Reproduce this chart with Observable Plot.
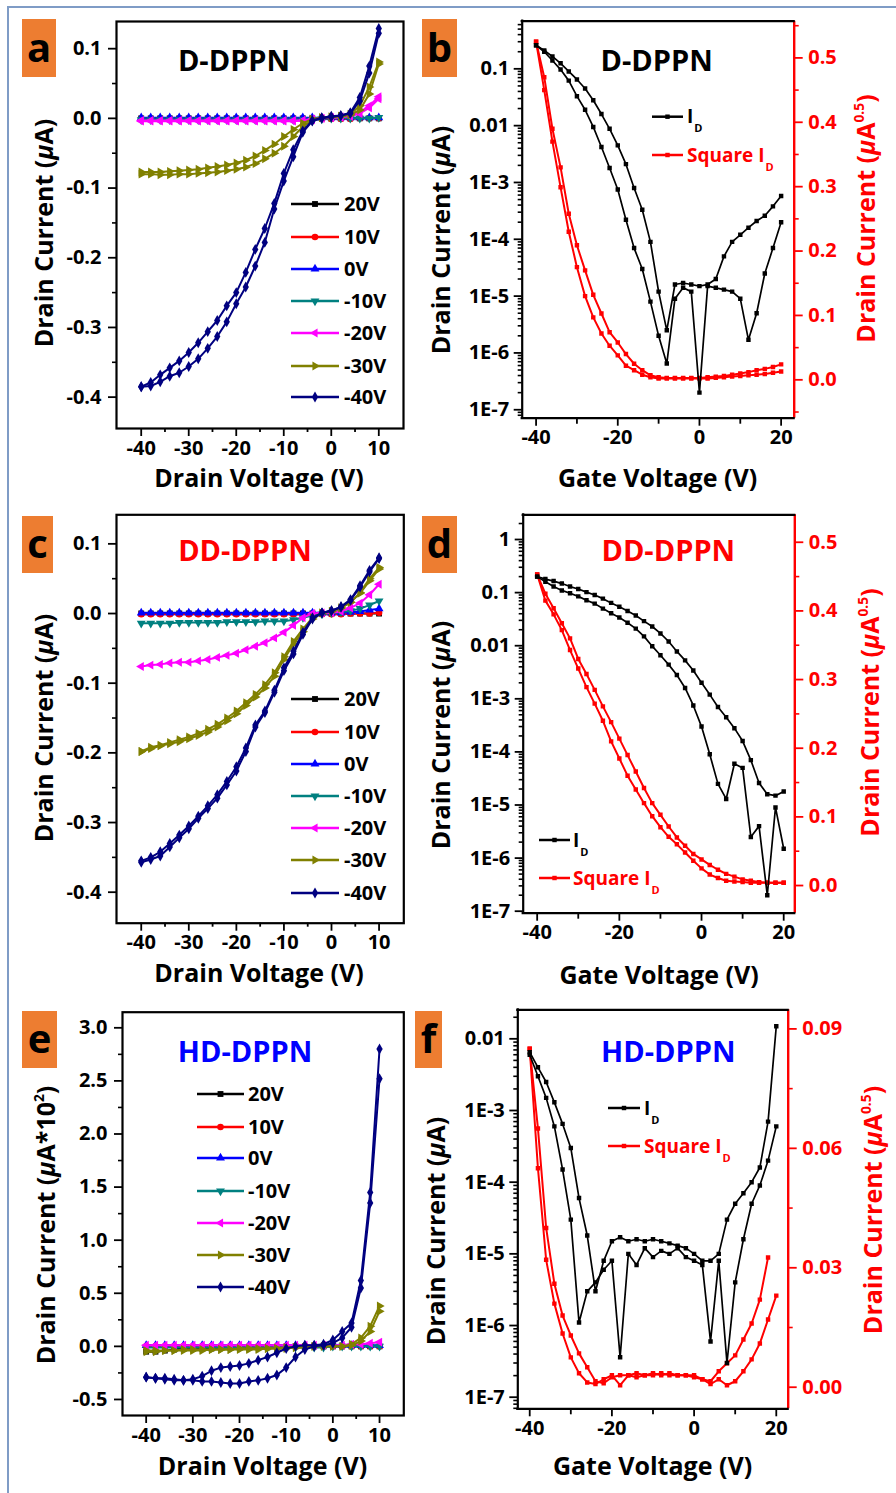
<!DOCTYPE html>
<html>
<head>
<meta charset="utf-8">
<script src="https://cdn.jsdelivr.net/npm/d3@7"></script>
<script src="https://cdn.jsdelivr.net/npm/@observablehq/plot@0.6"></script>
<style>
  body { margin: 0; background: #fff; }
  #page { position: relative; width: 896px; height: 1493px; overflow: hidden; background: #fff; }
  #page svg { position: absolute; }
</style>
</head>
<body>
<div id="page"></div>
<script>
// ---------- sweep voltages and axis ticks ----------
const VD = [-40,-38,-36,-34,-32,-30,-28,-26,-24,-22,-20,-18,-16,-14,-12,-10,-8,-6,-4,-2,0,2,4,6,8,10];
const VG = [-40,-38,-36,-34,-32,-30,-28,-26,-24,-22,-20,-18,-16,-14,-12,-10,-8,-6,-4,-2,0,2,4,6,8,10,12,14,16,18,20];
const GATE_LABELS = ["20V","10V","0V","-10V","-20V","-30V","-40V"];
const SERIES_COLORS = ["#000000","#ff0000","#0000ff","#008080","#ff00ff","#808000","#000080"];
const VD_TICKS = [-40,-30,-20,-10,0,10];
const VD_MINOR = [-35,-25,-15,-5,5];
const VG_TICKS = [-40,-20,0,20];
const VG_MINOR = [-30,-10,10];
const ID_TICKS = [-0.4,-0.3,-0.2,-0.1,0,0.1];
const ID_MINOR = [-0.35,-0.25,-0.15,-0.05,0.05];
const E_TICKS = [-0.5,0,0.5,1,1.5,2,2.5,3];
const E_MINOR = [-0.25,0.25,0.75,1.25,1.75,2.25,2.75];
const B_LOG_TICKS = [1e-7,1e-6,1e-5,1e-4,1e-3,0.01,0.1];
const D_LOG_TICKS = [1e-7,1e-6,1e-5,1e-4,1e-3,0.01,0.1,1];
const F_LOG_TICKS = [1e-7,1e-6,1e-5,1e-4,1e-3,0.01];
const SQ_TICKS = [0,0.1,0.2,0.3,0.4,0.5];
const B_SQ_MINOR = [-0.05,0.05,0.15,0.25,0.35,0.45,0.55];
const D_SQ_MINOR = [0.05,0.15,0.25,0.35,0.45];
const F_SQ_TICKS = [0,0.03,0.06,0.09];
const F_SQ_MINOR = [0.015,0.045,0.075];

// ---------- (a) D-DPPN output curves, drain current in uA ----------
const aG20   = [0.000,0.000,0.000,0.000,0.000,0.000,0.000,0.000,0.000,0.000,0.000,0.000,0.000,0.000,0.000,0.000,0.000,0.000,0.000,0.000,0.000,0.000,0.000,0.000,0.000,0.000];
const aG10   = [-0.001,-0.001,-0.001,-0.001,-0.001,-0.001,-0.001,-0.001,-0.001,-0.001,-0.001,-0.001,-0.001,-0.001,-0.001,-0.001,-0.001,-0.001,-0.001,-0.001,-0.001,-0.001,-0.001,0.000,0.000,0.000];
const aG0    = [0.001,0.001,0.001,0.001,0.001,0.001,0.001,0.001,0.001,0.001,0.001,0.001,0.001,0.001,0.001,0.001,0.001,0.001,0.001,0.001,0.001,0.001,0.001,0.001,0.001,0.001];
const aGm10  = [-0.002,-0.002,-0.002,-0.002,-0.002,-0.002,-0.002,-0.002,-0.002,-0.002,-0.002,-0.002,-0.002,-0.002,-0.002,-0.002,-0.002,-0.002,-0.002,-0.001,0.000,0.000,0.000,0.000,0.000,0.001];
const aGm20f = [-0.004,-0.004,-0.004,-0.004,-0.004,-0.004,-0.004,-0.004,-0.004,-0.004,-0.004,-0.004,-0.004,-0.004,-0.004,-0.004,-0.004,-0.003,-0.002,0.000,0.001,0.002,0.004,0.009,0.018,0.031];
const aGm20r = [-0.003,-0.003,-0.003,-0.003,-0.003,-0.003,-0.003,-0.003,-0.003,-0.003,-0.003,-0.003,-0.003,-0.003,-0.003,-0.003,-0.003,-0.003,-0.001,0.000,0.001,0.002,0.003,0.007,0.015,0.028];
const aGm30f = [-0.077,-0.077,-0.077,-0.076,-0.075,-0.074,-0.073,-0.071,-0.069,-0.067,-0.064,-0.060,-0.054,-0.046,-0.037,-0.026,-0.016,-0.007,-0.001,0.001,0.002,0.003,0.006,0.018,0.045,0.081];
const aGm30r = [-0.080,-0.080,-0.081,-0.081,-0.080,-0.080,-0.079,-0.078,-0.077,-0.075,-0.073,-0.070,-0.065,-0.058,-0.050,-0.040,-0.026,-0.012,-0.002,0.001,0.002,0.003,0.005,0.012,0.035,0.078];
const aGm40f = [-0.385,-0.379,-0.368,-0.358,-0.348,-0.336,-0.322,-0.306,-0.290,-0.269,-0.250,-0.221,-0.188,-0.158,-0.122,-0.079,-0.045,-0.018,-0.003,0.001,0.003,0.004,0.008,0.030,0.075,0.129];
const aGm40r = [-0.385,-0.384,-0.378,-0.370,-0.365,-0.356,-0.345,-0.330,-0.313,-0.292,-0.266,-0.242,-0.212,-0.178,-0.130,-0.090,-0.055,-0.020,-0.004,0.000,0.002,0.004,0.007,0.025,0.065,0.122];

// ---------- (c) DD-DPPN output curves, uA ----------
const cG20   = [0.000,0.000,0.000,0.000,0.000,0.000,0.000,0.000,0.000,0.000,0.000,0.000,0.000,0.000,0.000,0.000,0.000,0.000,0.000,0.000,0.000,0.000,0.000,0.000,0.000,0.000];
const cG10   = [-0.001,-0.001,-0.001,-0.001,-0.001,-0.001,-0.001,-0.001,-0.001,-0.001,-0.001,-0.001,-0.001,-0.001,-0.001,-0.001,-0.001,-0.001,-0.001,-0.001,-0.001,-0.001,0.000,0.000,0.000,0.001];
const cG0    = [0.001,0.001,0.001,0.001,0.001,0.001,0.001,0.001,0.001,0.001,0.001,0.001,0.001,0.001,0.001,0.001,0.001,0.001,0.001,0.001,0.001,0.001,0.002,0.003,0.005,0.007];
const cGm10  = [-0.014,-0.014,-0.014,-0.014,-0.013,-0.013,-0.013,-0.013,-0.013,-0.012,-0.012,-0.012,-0.012,-0.011,-0.011,-0.011,-0.009,-0.006,-0.003,-0.001,0.001,0.002,0.004,0.007,0.012,0.018];
const cGm20  = [-0.076,-0.074,-0.073,-0.071,-0.070,-0.070,-0.068,-0.066,-0.063,-0.060,-0.057,-0.052,-0.047,-0.042,-0.035,-0.027,-0.017,-0.006,0.000,0.001,0.001,0.003,0.008,0.015,0.027,0.042];
const cGm30f = [-0.198,-0.194,-0.190,-0.187,-0.184,-0.180,-0.175,-0.170,-0.163,-0.154,-0.144,-0.132,-0.120,-0.107,-0.090,-0.066,-0.044,-0.026,-0.008,0.001,0.003,0.008,0.016,0.029,0.047,0.064];
const cGm30r = [-0.198,-0.192,-0.189,-0.185,-0.181,-0.177,-0.172,-0.166,-0.159,-0.150,-0.140,-0.128,-0.116,-0.102,-0.085,-0.062,-0.040,-0.022,-0.006,0.001,0.003,0.008,0.016,0.030,0.050,0.066];
const cGm40f = [-0.357,-0.353,-0.348,-0.335,-0.322,-0.309,-0.294,-0.280,-0.265,-0.246,-0.226,-0.198,-0.163,-0.142,-0.113,-0.082,-0.058,-0.030,-0.008,0.001,0.004,0.009,0.019,0.038,0.060,0.079];
const cGm40r = [-0.355,-0.350,-0.342,-0.330,-0.318,-0.305,-0.291,-0.276,-0.260,-0.241,-0.220,-0.193,-0.160,-0.140,-0.110,-0.078,-0.054,-0.027,-0.006,0.001,0.004,0.010,0.020,0.040,0.062,0.080];

// ---------- (e) HD-DPPN output curves, uA x 10^2 ----------
const eG20   = [-0.05,-0.05,-0.04,-0.03,-0.02,-0.02,-0.02,-0.02,-0.01,-0.01,-0.01,-0.01,-0.01,-0.01,-0.01,-0.01,0.00,0.00,0.00,0.00,0.00,0.00,0.00,0.00,0.00,0.00];
const eG10   = [0.00,0.00,0.00,0.00,0.00,0.00,0.00,0.00,0.00,0.00,0.00,0.00,0.00,0.00,0.00,0.00,0.00,0.00,0.00,0.00,0.00,0.00,0.00,0.00,0.00,0.00];
const eG0    = [0.01,0.01,0.01,0.01,0.01,0.01,0.01,0.01,0.01,0.01,0.01,0.01,0.01,0.01,0.01,0.01,0.01,0.01,0.01,0.01,0.01,0.01,0.01,0.01,0.01,0.01];
const eGm10  = [-0.01,-0.01,-0.01,-0.01,-0.01,-0.01,-0.01,-0.01,-0.01,-0.01,-0.01,-0.01,-0.01,-0.01,-0.01,-0.01,-0.01,-0.01,-0.01,-0.01,0.00,0.00,0.00,0.00,0.00,0.00];
const eGm20  = [0.01,0.01,0.01,0.01,0.01,0.01,0.01,0.01,0.01,0.01,0.01,0.01,0.01,0.01,0.01,0.01,0.01,0.01,0.01,0.01,0.01,0.01,0.02,0.02,0.03,0.04];
const eGm30f = [-0.05,-0.05,-0.04,-0.04,-0.04,-0.04,-0.04,-0.03,-0.03,-0.03,-0.03,-0.03,-0.03,-0.02,-0.02,-0.02,-0.01,-0.01,0.00,0.00,0.00,0.00,0.02,0.08,0.19,0.38];
const eGm30r = [-0.04,-0.04,-0.04,-0.04,-0.03,-0.03,-0.03,-0.03,-0.03,-0.03,-0.02,-0.02,-0.02,-0.02,-0.02,-0.01,-0.01,-0.01,0.00,0.00,0.00,0.00,0.01,0.05,0.14,0.33];
const eGm40f = [-0.29,-0.30,-0.31,-0.32,-0.32,-0.31,-0.28,-0.23,-0.20,-0.19,-0.18,-0.16,-0.13,-0.10,-0.06,-0.02,0.00,0.01,0.01,0.02,0.06,0.14,0.22,0.62,1.45,2.80];
const eGm40r = [-0.29,-0.30,-0.30,-0.31,-0.32,-0.32,-0.33,-0.33,-0.34,-0.35,-0.35,-0.33,-0.32,-0.30,-0.27,-0.20,-0.10,-0.03,0.00,0.01,0.03,0.08,0.18,0.55,1.35,2.52];

// ---------- (b) D-DPPN transfer: I_D (uA) and square-root I_D (uA^0.5), two sweeps ----------
const bId1 = [0.26,0.21,0.165,0.125,0.09,0.065,0.045,0.028,0.016,0.0088,0.0045,0.0021,0.0008,0.00033,0.00009,0.000012,0.0000025,0.000016,0.000017,0.000016,0.000015,0.000016,0.00002,0.00005,0.00009,0.00012,0.00016,0.00021,0.00026,0.00038,0.00058];
const bId2 = [0.26,0.20,0.14,0.097,0.062,0.033,0.019,0.0095,0.0042,0.0018,0.00075,0.00022,0.00007,0.00003,0.000008,0.000002,0.00000065,0.000009,0.000014,0.000012,0.0000002,0.000015,0.000014,0.000013,0.000012,0.000009,0.0000017,0.000005,0.000025,0.00007,0.0002];
const bSq1 = [0.525,0.47,0.39,0.33,0.258,0.209,0.17,0.132,0.103,0.074,0.058,0.040,0.025,0.015,0.007,0.004,0.003,0.003,0.003,0.003,0.003,0.004,0.005,0.006,0.008,0.010,0.012,0.015,0.017,0.020,0.024];
const bSq2 = [0.525,0.45,0.37,0.299,0.23,0.175,0.13,0.097,0.072,0.053,0.038,0.022,0.015,0.008,0.004,0.002,0.002,0.002,0.002,0.002,0.002,0.002,0.003,0.004,0.005,0.006,0.007,0.008,0.009,0.011,0.013];

// ---------- (d) DD-DPPN transfer ----------
const dId1 = [0.2,0.18,0.165,0.148,0.13,0.117,0.102,0.09,0.077,0.064,0.054,0.045,0.037,0.029,0.023,0.017,0.012,0.0078,0.0053,0.0034,0.002,0.0012,0.0007,0.00045,0.00028,0.00016,0.00007,0.000026,0.000016,0.000015,0.000018];
const dId2 = [0.2,0.16,0.13,0.11,0.097,0.085,0.072,0.062,0.05,0.041,0.034,0.027,0.021,0.015,0.0098,0.0066,0.0044,0.0028,0.0016,0.00075,0.0003,0.00009,0.000025,0.000013,0.00006,0.00005,0.0000025,0.000004,0.0000002,0.000009,0.0000015];
const dSq1 = [0.453,0.425,0.404,0.382,0.36,0.33,0.308,0.285,0.261,0.238,0.214,0.19,0.166,0.142,0.12,0.103,0.086,0.07,0.058,0.046,0.038,0.03,0.023,0.017,0.013,0.009,0.007,0.005,0.004,0.004,0.004];
const dSq2 = [0.453,0.415,0.395,0.372,0.343,0.316,0.289,0.265,0.24,0.21,0.185,0.16,0.14,0.12,0.101,0.085,0.071,0.06,0.048,0.036,0.025,0.016,0.011,0.007,0.006,0.005,0.004,0.004,0.004,0.004,0.004];

// ---------- (f) HD-DPPN transfer ----------
const fId1 = [0.0065,0.004,0.0025,0.0013,0.00065,0.0003,0.00006,0.000018,0.000003,0.000008,0.000015,0.000017,0.000015,0.000016,0.000015,0.000016,0.000015,0.000014,0.000013,0.000012,0.00001,0.000008,0.000008,0.00001,0.00003,0.00005,0.00007,0.0001,0.00016,0.0007,0.015];
const fId2 = [0.006,0.003,0.0015,0.0006,0.00015,0.00003,0.0000011,0.000003,0.000004,0.000006,0.000008,0.00000036,0.00001,0.000007,0.000012,0.000009,0.000011,0.00001,0.000012,0.000009,0.000008,0.000007,0.0000006,0.000008,0.0000003,0.000004,0.000016,0.00005,0.00009,0.0002,0.0006];
const fSq1 = [0.085,0.065,0.040,0.026,0.018,0.013,0.0085,0.005,0.0015,0.001,0.0025,0.003,0.003,0.0035,0.003,0.0035,0.003,0.0035,0.003,0.003,0.0025,0.002,0.0015,0.004,0.006,0.008,0.012,0.016,0.022,0.0326,null];
const fSq2 = [0.085,0.055,0.032,0.021,0.0135,0.0075,0.0035,0.0012,0.0008,0.002,0.003,0.0005,0.003,0.0025,0.003,0.003,0.0035,0.003,0.003,0.003,0.003,0.002,0.0008,0.002,0.0005,0.0015,0.004,0.007,0.011,0.017,0.023];

// ---------- drawing helpers ----------
const FONT = "'Open Sans', 'Noto Sans', sans-serif";
const TICK_FONT = {fontSize: 20, fontWeight: "bold", fontFamily: FONT};
const OUT_R = 3.3;   // output-curve marker radius
const TR_R = 2.5;    // transfer-curve marker radius
const page = document.getElementById("page");

// triangle marker rotated by an angle (0 = pointing up)
function triangle(angle) {
  const c = Math.cos(angle), s = Math.sin(angle), r3 = Math.sqrt(3);
  return {
    draw(ctx, size) {
      const h = Math.sqrt(size / (r3 * 3));
      [[0, -2 * h], [-r3 * h, h], [r3 * h, h]].forEach(([x, y], i) => {
        const X = x * c - y * s, Y = x * s + y * c;
        if (i) ctx.lineTo(X, Y); else ctx.moveTo(X, Y);
      });
      ctx.closePath();
    }
  };
}
const SYMBOLS = [d3.symbolSquare, d3.symbolCircle, triangle(0), triangle(Math.PI),
                 triangle(-Math.PI / 2), triangle(Math.PI / 2), d3.symbolDiamond];

function place(svg, left, top) {
  svg.style.left = left + "px";
  svg.style.top = top + "px";
  page.appendChild(svg);
}

function tidy(xs, sweeps) {
  return sweeps.flatMap((arr, s) => xs.map((v, j) => ({v, i: arr[j], s})))
               .filter(d => d.i != null);
}

const fixed = n => d => d.toFixed(n);
const logFmt = d => d >= 0.01 ? String(d) : "1E" + Math.round(Math.log10(d));

// tick marks only (no labels) for minor ticks
const minorY = (ticks, extra = {}) => Plot.axisY({ticks, tickSize: 4, fill: null, label: null, strokeWidth: 1.6, ...extra});
const minorX = (ticks, size = 4) => Plot.axisX({ticks, tickSize: size, fill: null, label: null, strokeWidth: 1.8});
const majorX = ticks => Plot.axisX({ticks, tickSize: 8, tickPadding: 4, tickFormat: d => String(d), label: null, strokeWidth: 1.8, ...TICK_FONT});

function outputPanel(o) {
  const marks = [];
  o.series.forEach((sweeps, k) => {
    const rows = tidy(VD, sweeps);
    marks.push(Plot.line(rows, {x: "v", y: "i", z: "s", stroke: SERIES_COLORS[k], strokeWidth: 2, clip: true}));
    marks.push(Plot.dot(rows, {x: "v", y: "i", r: OUT_R, symbol: SYMBOLS[k], fill: SERIES_COLORS[k], clip: true}));
  });
  marks.push(
    Plot.frame({stroke: "#000", strokeWidth: 2.2}),
    Plot.axisY({ticks: o.yMajor, tickSize: 8, tickPadding: 7, tickFormat: o.yFmt, label: null, strokeWidth: 1.8, ...TICK_FONT}),
    minorY(o.yMinor),
    majorX(VD_TICKS),
    minorX(VD_MINOR)
  );
  const [mt, mr, mb, ml] = o.margin;
  const svg = Plot.plot({
    width: o.width, height: o.height,
    marginTop: mt, marginRight: mr, marginBottom: mb, marginLeft: ml,
    x: {domain: o.xDomain}, y: {domain: o.yDomain},
    style: {background: "transparent", fontFamily: FONT, overflow: "visible"},
    marks
  });
  place(svg, o.left, o.top);
}

function transferPanel(o) {
  const [mt, mr, mb, ml] = o.margin;
  const frameOpts = {width: o.width, height: o.height, marginTop: mt, marginRight: mr, marginBottom: mb, marginLeft: ml,
                     style: {background: "transparent", fontFamily: FONT, overflow: "visible"}};
  const idRows = tidy(VG, o.ids);
  const sqRows = tidy(VG, o.sqs);
  const logMinor = [];
  for (let e = -8; e <= 1; e++) for (let m = 2; m <= 9; m++) {
    const t = m * Math.pow(10, e);
    if (t > o.logDomain[0] && t < o.logDomain[1]) logMinor.push(t);
  }

  // square-root current against the right-hand linear axis
  const red = Plot.plot({
    ...frameOpts,
    x: {domain: o.xDomain, axis: null}, y: {domain: o.sqDomain},
    marks: [
      Plot.line(sqRows, {x: "v", y: "i", z: "s", stroke: "#ff0000", strokeWidth: 2, clip: true}),
      Plot.dot(sqRows, {x: "v", y: "i", r: TR_R, symbol: "square", fill: "#ff0000", clip: true}),
      Plot.ruleX([o.xDomain[1]], {stroke: "#ff0000", strokeWidth: 2.4}),
      Plot.axisY({anchor: "right", ticks: o.sqMajor, tickSize: 8, tickPadding: 6, tickFormat: o.sqFmt, color: "#ff0000", label: null, strokeWidth: 1.8, ...TICK_FONT}),
      minorY(o.sqMinor, {anchor: "right", stroke: "#ff0000"})
    ]
  });
  place(red, o.left, o.top);

  // drain current against the left-hand log axis
  const black = Plot.plot({
    ...frameOpts,
    x: {domain: o.xDomain}, y: {type: "log", domain: o.logDomain},
    marks: [
      Plot.line(idRows, {x: "v", y: "i", z: "s", stroke: "#000", strokeWidth: 1.7, clip: true}),
      Plot.dot(idRows, {x: "v", y: "i", r: TR_R, symbol: "square", fill: "#000", clip: true}),
      Plot.ruleX([o.xDomain[0]], {stroke: "#000", strokeWidth: 2.2, strokeLinecap: "square"}),
      Plot.ruleY([o.logDomain[0], o.logDomain[1]], {stroke: "#000", strokeWidth: 2.2, strokeLinecap: "square"}),
      Plot.axisY({ticks: o.logMajor, tickSize: 8, tickPadding: 5, tickFormat: logFmt, label: null, strokeWidth: 1.8, ...TICK_FONT}),
      minorY(logMinor),
      majorX(VG_TICKS),
      minorX(VG_MINOR, 6)
    ]
  });
  place(black, o.left, o.top);
}

// ---------- the six panels ----------
outputPanel({left: 0, top: 0, width: 448, height: 490, margin: [21, 45, 62, 116],
  xDomain: [-45.2, 15.2], yDomain: [-0.445, 0.139], yMajor: ID_TICKS, yMinor: ID_MINOR, yFmt: fixed(1),
  series: [[aG20], [aG10], [aG0], [aGm10], [aGm20f, aGm20r], [aGm30f, aGm30r], [aGm40f, aGm40r]]});

transferPanel({left: 448, top: 0, width: 448, height: 490, margin: [20.7, 102.3, 72.3, 73.7],
  xDomain: [-43.4, 23.2], logDomain: [7.1e-8, 0.689], logMajor: B_LOG_TICKS,
  sqDomain: [-0.0596, 0.557], sqMajor: SQ_TICKS, sqMinor: B_SQ_MINOR, sqFmt: fixed(1),
  ids: [bId1, bId2], sqs: [bSq1, bSq2]});

outputPanel({left: 0, top: 490, width: 448, height: 490, margin: [24.3, 44.7, 57.3, 116],
  xDomain: [-45.2, 15.2], yDomain: [-0.4445, 0.1417], yMajor: ID_TICKS, yMinor: ID_MINOR, yFmt: fixed(1),
  series: [[cG20], [cG10], [cG0], [cGm10], [cGm20], [cGm30f, cGm30r], [cGm40f, cGm40r]]});

transferPanel({left: 448, top: 490, width: 448, height: 490, margin: [24.3, 101.7, 67.3, 74.7],
  xDomain: [-43.4, 22.7], logDomain: [0.917e-7, 2.92], logMajor: D_LOG_TICKS,
  sqDomain: [-0.0403, 0.54], sqMajor: SQ_TICKS, sqMinor: D_SQ_MINOR, sqFmt: fixed(1),
  ids: [dId1, dId2], sqs: [dSq1, dSq2]});

outputPanel({left: 0, top: 980, width: 448, height: 513, margin: [31.7, 44.7, 78, 122],
  xDomain: [-45.07, 15.2], yDomain: [-0.651, 3.147], yMajor: E_TICKS, yMinor: E_MINOR, yFmt: fixed(1),
  series: [[eG20], [eG10], [eG0], [eGm10], [eGm20], [eGm30f, eGm30r], [eGm40f, eGm40r]]});

transferPanel({left: 448, top: 980, width: 448, height: 513, margin: [29.3, 108.3, 84.7, 69.3],
  xDomain: [-42.9, 22.9], logDomain: [0.689e-7, 0.0254], logMajor: F_LOG_TICKS,
  sqDomain: [-0.00542, 0.0948], sqMajor: F_SQ_TICKS, sqMinor: F_SQ_MINOR, sqFmt: fixed(2),
  ids: [fId1, fId2], sqs: [fSq1, fSq2]});

// ---------- annotation layer: panel letters, titles, axis titles, legends ----------
const ov = d3.create("svg").attr("width", 896).attr("height", 1493)
  .attr("font-family", FONT).attr("font-weight", "bold")
  .style("left", "0px").style("top", "0px").style("pointer-events", "none");

ov.append("path").attr("d", "M8,1493V7H896").attr("fill", "none")
  .attr("stroke", "#7f9cc6").attr("stroke-width", 2);

const PANEL_LETTERS = ["a", "b", "c", "d", "e", "f"];
[[22, 19, 34, 58, 62], [422, 19, 35, 58, 62], [22, 516, 31, 57, 558],
 [422, 516, 35, 57, 558], [22, 1011, 35, 57, 1053], [415, 1011, 27, 57, 1053]].forEach(([x, y, w, h, base], k) => {
  ov.append("rect").attr("x", x).attr("y", y).attr("width", w).attr("height", h).attr("fill", "#ed7d31");
  ov.append("text").attr("x", x + w / 2).attr("y", base).attr("text-anchor", "middle")
    .attr("font-size", 40).attr("fill", "#000").text(PANEL_LETTERS[k]);
});

function label(x, y, size, color, parts, rotate) {
  const t = ov.append("text")
    .attr("transform", `translate(${x},${y})` + (rotate ? " rotate(-90)" : ""))
    .attr("y", rotate ? size * 0.35 : 0)
    .attr("text-anchor", "middle").attr("font-size", size).attr("fill", color);
  parts.forEach(p => {
    const s = t.append("tspan").text(p.t);
    if (p.it) s.attr("font-style", "italic");
    if (p.sup) s.attr("font-size", size * 0.55).attr("dy", -size * 0.45);
    if (p.back) s.attr("dy", size * 0.45);
  });
}

const MU_A = [{t: "Drain Current ("}, {t: "\u03bc", it: true}, {t: "A)"}];
const MU_A05 = [{t: "Drain Current ("}, {t: "\u03bc", it: true}, {t: "A"}, {t: "0.5", sup: true}, {t: ")", back: true}];
const MU_A100 = [{t: "Drain Current ("}, {t: "\u03bc", it: true}, {t: "A*10"}, {t: "2", sup: true}, {t: ")", back: true}];

// titles
label(234, 71, 29, "#000", [{t: "D-DPPN"}]);
label(656.7, 71, 29, "#000", [{t: "D-DPPN"}]);
label(245, 561, 29, "#ff0000", [{t: "DD-DPPN"}]);
label(668.3, 561, 29, "#ff0000", [{t: "DD-DPPN"}]);
label(245, 1061.7, 29, "#0000ff", [{t: "HD-DPPN"}]);
label(668.3, 1061.7, 29, "#0000ff", [{t: "HD-DPPN"}]);

// axis titles
label(44, 233, 25, "#000", MU_A, true);
label(259, 487, 25, "#000", [{t: "Drain Voltage (V)"}]);
label(441, 240, 25, "#000", MU_A, true);
label(866.7, 218.5, 25, "#ff0000", MU_A05, true);
label(657.5, 487, 25, "#000", [{t: "Gate Voltage (V)"}]);

label(44, 728, 25, "#000", MU_A, true);
label(259, 982, 25, "#000", [{t: "Drain Voltage (V)"}]);
label(441, 735, 25, "#000", MU_A, true);
label(870, 712.5, 25, "#ff0000", MU_A05, true);
label(659, 983.5, 25, "#000", [{t: "Gate Voltage (V)"}]);

label(46.7, 1225, 25, "#000", MU_A100, true);
label(262.5, 1475, 25, "#000", [{t: "Drain Voltage (V)"}]);
label(436.7, 1231, 25, "#000", MU_A, true);
label(873.3, 1210, 25, "#ff0000", MU_A05, true);
label(652.5, 1475, 25, "#000", [{t: "Gate Voltage (V)"}]);

// output-curve legends
function gateLegend(x0, x1, xt, rows) {
  GATE_LABELS.forEach((lab, k) => {
    const y = rows[k], c = SERIES_COLORS[k];
    ov.append("line").attr("x1", x0).attr("x2", x1).attr("y1", y).attr("y2", y)
      .attr("stroke", c).attr("stroke-width", 2.5);
    ov.append("path").attr("d", d3.symbol(SYMBOLS[k], Math.PI * OUT_R * OUT_R)())
      .attr("transform", `translate(${(x0 + x1) / 2},${y})`).attr("fill", c);
    ov.append("text").attr("x", xt).attr("y", y).attr("dy", "0.35em")
      .attr("font-size", 20).attr("fill", "#000").text(lab);
  });
}
gateLegend(291, 339, 344, [204, 237, 269, 301, 333, 366, 397]);
gateLegend(291, 339, 344, [699, 732, 764, 796, 828, 860, 893]);
gateLegend(197, 244, 248, [1094, 1127, 1158, 1191, 1223, 1255, 1287]);

// transfer-curve legends
function transferLegend(x0, x1, xt, y1, y2) {
  [[y1, "#000", "I"], [y2, "#ff0000", "Square I"]].forEach(([y, c, txt]) => {
    ov.append("line").attr("x1", x0).attr("x2", x1).attr("y1", y).attr("y2", y)
      .attr("stroke", c).attr("stroke-width", 2.5);
    ov.append("path").attr("d", d3.symbol(d3.symbolSquare, Math.PI * TR_R * TR_R)())
      .attr("transform", `translate(${(x0 + x1) / 2},${y})`).attr("fill", c);
    const t = ov.append("text").attr("x", xt).attr("y", y + 6.5).attr("font-size", 19).attr("fill", c);
    t.append("tspan").text(txt);
    t.append("tspan").attr("font-size", 11).attr("dy", 9).attr("dx", 1).text("D");
  });
}
transferLegend(652, 683, 687, 116.7, 155);
transferLegend(539, 570, 573, 840, 878);
transferLegend(608, 640, 644, 1108, 1146);

page.appendChild(ov.node());
</script>
</body>
</html>
